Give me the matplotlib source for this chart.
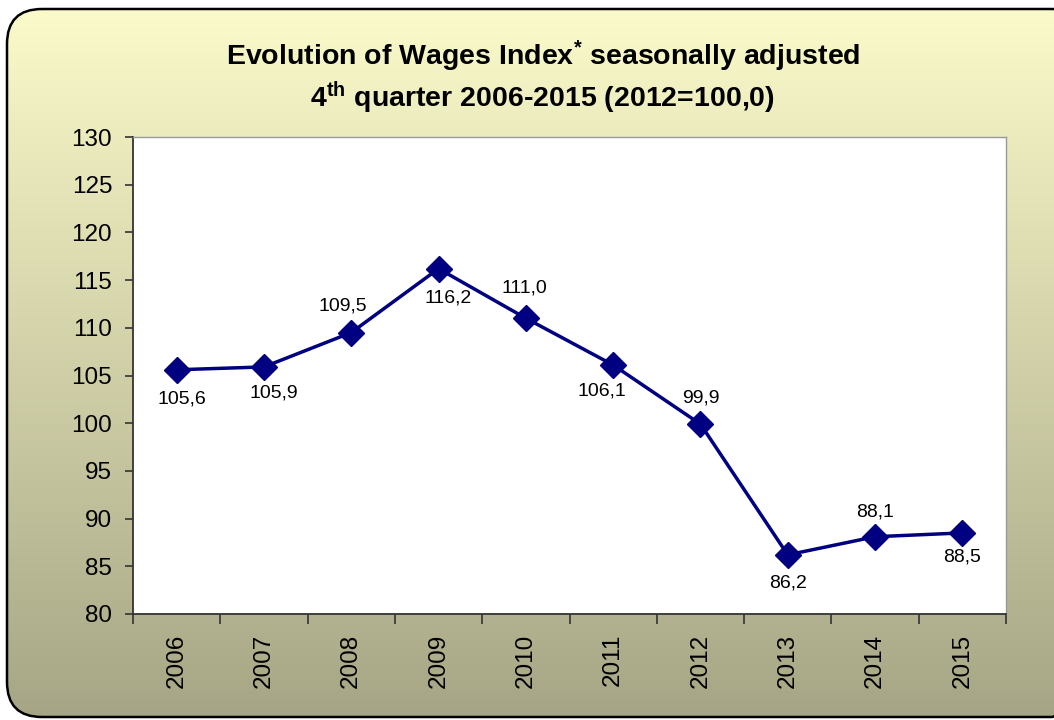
import matplotlib.pyplot as plt
import numpy as np
from matplotlib.patches import FancyBboxPatch

plt.rcParams['font.family'] = ['Liberation Sans', 'DejaVu Sans']
plt.rcParams['mathtext.default'] = 'regular'

years = ['2006', '2007', '2008', '2009', '2010', '2011', '2012', '2013', '2014', '2015']
wages = [105.6, 105.9, 109.5, 116.2, 111.0, 106.1, 99.9, 86.2, 88.1, 88.5]
# label offsets (points) next to each marker
label_pos = [(4, -21), (7, -19), (-6, 19), (7, -21), (-1, 22), (-8, -19), (0, 19), (0, -20), (0, 18), (0, -17)]

fig = plt.figure(figsize=(10.54, 7.2), dpi=100)
fig.patch.set_facecolor('white')

# background with gradient inside a rounded frame
bg = fig.add_axes([0, 0, 1, 1])
bg.set_xlim(0, 1054)
bg.set_ylim(720, 0)
bg.axis('off')
grad = np.linspace(0, 1, 256)[:, None]
top = np.array([251, 250, 202]) / 255
bot = np.array([166, 166, 134]) / 255
img = top[None, None, :] * (1 - grad[..., None]) + bot[None, None, :] * grad[..., None]
frame = FancyBboxPatch((7, 9), 1080, 708, boxstyle='round,pad=0,rounding_size=35',
                       facecolor='none', edgecolor='black', lw=1.8, zorder=3)
bg.add_patch(frame)
im = bg.imshow(img, extent=(7, 1087, 717, 9), aspect='auto', zorder=1)
im.set_clip_path(frame)

ax = fig.add_axes([133 / 1054, 1 - 614 / 720, 873 / 1054, 477 / 720])
ax.set_facecolor('white')
x = np.arange(len(years))
ax.plot(x, wages, color='#000080', lw=2.5, marker='D', markersize=13, zorder=3)
for xi, v, off in zip(x, wages, label_pos):
    ax.annotate(f'{v:.1f}'.replace('.', ','), (xi, v), xytext=off, textcoords='offset points',
                ha='center', va='center', fontsize=14, color='black')

ax.set_xlim(-0.5, len(years) - 0.5)
ax.set_ylim(80, 130)
ax.set_yticks(np.arange(80, 131, 5))
ax.set_xticks(x)
ax.set_xticklabels(years, rotation=90, fontsize=17.5)
ax.set_xticks(np.arange(-0.5, len(years), 1), minor=True)
ax.tick_params(axis='x', which='major', length=0, pad=14)
ax.tick_params(axis='x', which='minor', length=7, width=1.2, color='#333333')
ax.tick_params(axis='y', labelsize=17.5, length=6, width=1.2, color='#333333', pad=9)
for s in ['left', 'bottom']:
    ax.spines[s].set_color('#333333')
    ax.spines[s].set_linewidth(1.3)
for s in ['top', 'right']:
    ax.spines[s].set_color('#999999')
    ax.spines[s].set_linewidth(1.0)

fig.text(0.515, 1 - 65 / 720, r'Evolution of Wages Index$^{*}$ seasonally adjusted',
         ha='center', va='baseline', fontsize=20.5, fontweight='bold')
fig.text(0.515, 1 - 107 / 720, r'4$^{th}$ quarter 2006-2015 (2012=100,0)',
         ha='center', va='baseline', fontsize=20.5, fontweight='bold')

fig.savefig('out.png', dpi=100)
